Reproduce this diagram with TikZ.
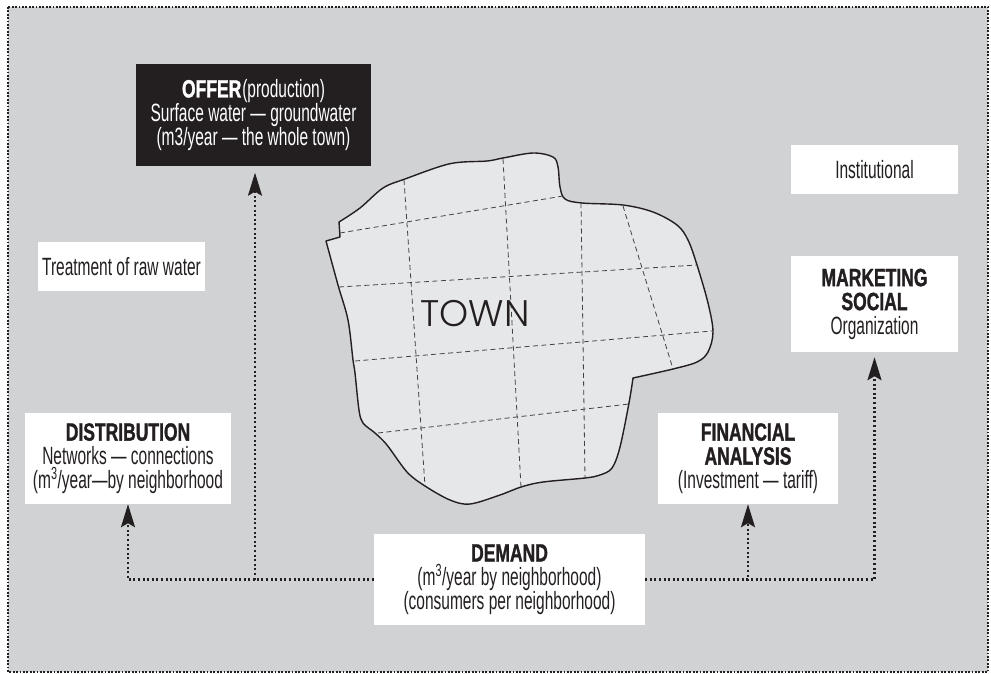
\documentclass[tikz,border=0pt]{standalone}
\usepackage{fontspec}
\usetikzlibrary{arrows.meta,calc}
\setmainfont{Liberation Sans}
\newfontfamily\condreg[FakeStretch=0.62]{Liberation Sans}
\newfontfamily\condbold[FakeStretch=0.70,FakeBold=1.2]{Liberation Sans Bold}
\newfontfamily\townfont{Poppins Light}
\newcommand{\hd}[1]{{\condbold #1}}
\definecolor{pagegrey}{HTML}{D0D2D4}
\definecolor{townfill}{HTML}{E6E7E9}
\definecolor{ink}{HTML}{231F20}
\tikzset{
  labelbox/.style={fill=white,text=ink,inner sep=0pt,align=center,
    font=\fontsize{25}{24}\selectfont\condreg},
  darkbox/.style={labelbox,fill=ink,text=white},
  link/.style={ink,line width=2.2pt,dash pattern=on 2pt off 2.6pt},
  flow/.style={link,-{Stealth[length=23pt,width=14pt,inset=4pt,fill=ink]}},
  outer/.style={ink,line width=2pt,dash pattern=on 1.8pt off 1.6pt},
  grid line/.style={ink!85,line width=0.8pt,dash pattern=on 5pt off 3.5pt},
}
\newcommand{\boxat}[7]{% name, x1, y1, x2, y2, style, text
  \node[#6,minimum width={(#4-#2)*1pt},minimum height={(#5-#3)*1pt}] (#1) at ({(#2+#4)/2},{(#3+#5)/2}) {#7};}
\begin{document}
\begin{tikzpicture}[x=1pt,y=-1pt]
\useasboundingbox (0,0) rectangle (991,673);
\fill[white] (0,0) rectangle (991,673);
\fill[pagegrey] (8,7) rectangle (988,672);
\draw[outer] (8,7) rectangle (988,672);

% town
\draw[fill=townfill,draw=ink,line width=1.4pt,line join=round]
  plot[smooth,tension=.55] coordinates {(339,222) (360,208) (383,188) (405,179) (450,163.7) (487,161) (503,158) (533,153) (553,157) (558,167) (560,187) (565,199) (582,203) (623,205) (653,212) (677,225) (688,240) (697,265) (708,303) (713,332) (708,352) (697,362) (673,369) (633,378)}
  -- plot[smooth,tension=.55] coordinates {(633,378) (629,403) (620,447) (612,468) (600,475) (585,478) (543,482) (521,487) (500,495) (470,504) (450,500) (425,486) (407,472) (387,445) (375,433) (363,423) (359,410) (355,373) (353,360) (348,320) (338,285) (326,241)}
  -- (340,237) -- cycle;
\draw[grid line] (340,233) -- (563,196);
\draw[grid line] (339,287) -- (697,265);
\draw[grid line] (355,361) -- (712,331);
\draw[grid line] (378,433) -- (629,404);
\draw[grid line] (404,180) -- (425,486);
\draw[grid line] (503,159) -- (521,487);
\draw[grid line] (581,203) -- (585,478);
\draw[grid line] (623,206) -- (673,369);
\node[text=ink,inner sep=0pt,font=\fontsize{37}{37}\selectfont\townfont] (town) at (475,314) {TOWN};

% boxes
\boxat{offer}{136}{64}{371}{166}{darkbox}{\hd{OFFER}\kern1pt(production)\\Surface water — groundwater\\(m3/year — the whole town)}
\boxat{treatment}{38}{242}{205}{291}{labelbox}{Treatment of raw water}
\boxat{distribution}{25}{413}{231}{504}{labelbox}{\hd{DISTRIBUTION}\\Networks — connections\\(m\textsuperscript{3}/year—by neighborhood}
\boxat{demand}{374}{534}{645}{625}{labelbox}{\hd{DEMAND}\\(m\textsuperscript{3}/year by neighborhood)\\(consumers per neighborhood)}
\boxat{financial}{658}{413}{838}{504}{labelbox}{\hd{FINANCIAL}\\\hd{ANALYSIS}\\(Investment — tariff)}
\boxat{institutional}{791}{145}{958}{194}{labelbox}{Institutional}
\boxat{marketing}{791}{256}{958}{352}{labelbox}{\hd{MARKETING}\\\hd{SOCIAL}\\Organization}

% connectors
\coordinate (offerfoot) at (255,579.5);
\draw[link] (demand.west) -- (offerfoot);
\draw[flow] (offerfoot) -- ($(offerfoot |- offer.south)+(0,6.5)$);
\draw[flow] (offerfoot) -| (distribution.south);
\draw[flow] (demand.east) -| (financial.south);
\draw[flow] (demand.east) -| ($(marketing.south)+(0,5)$);
\end{tikzpicture}
\end{document}
